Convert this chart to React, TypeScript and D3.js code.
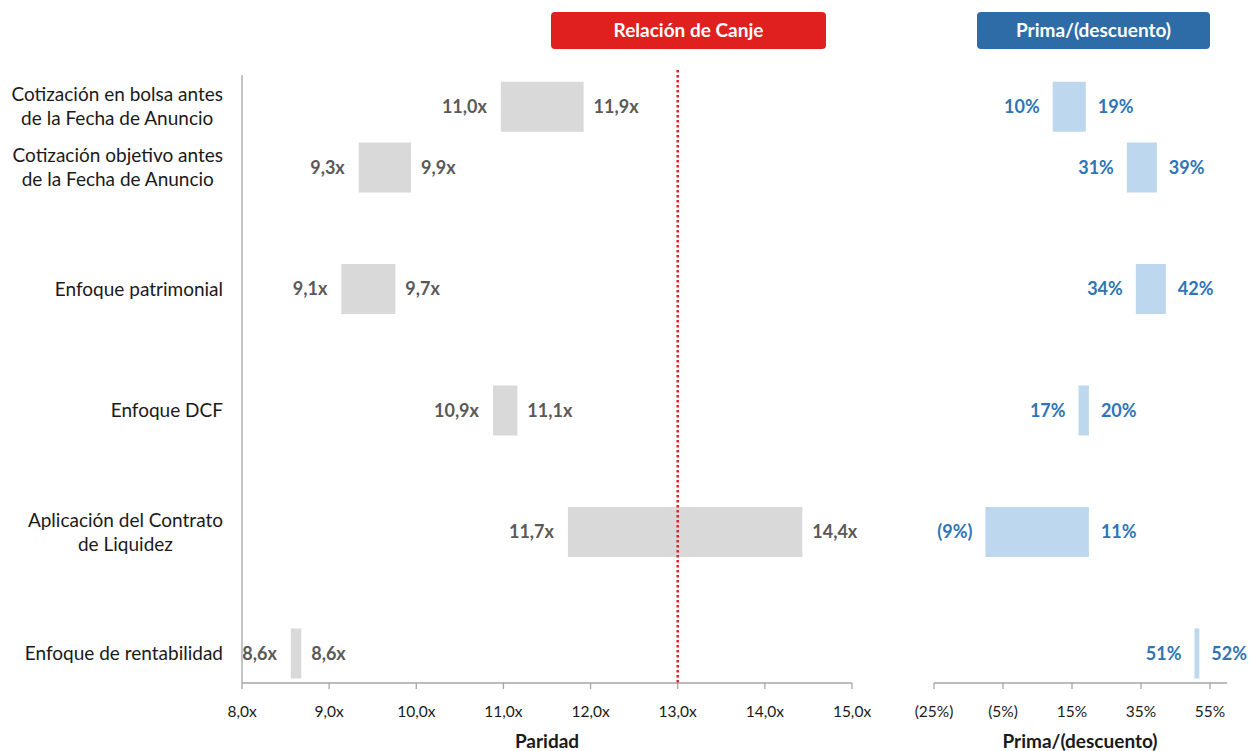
import React, { useEffect, useRef } from "react";
import * as d3 from "d3";

const categories: string[][] = [
  ["Cotización en bolsa antes", "de la Fecha de Anuncio"],
  ["Cotización objetivo antes", "de la Fecha de Anuncio"],
  ["Enfoque patrimonial"],
  ["Enfoque DCF"],
  ["Aplicación del Contrato", "de Liquidez"],
  ["Enfoque de rentabilidad"],
];
const rowSlot = [0.5, 1, 2, 3, 4, 5];

const canjeLow = [10.97, 9.34, 9.14, 10.88, 11.74, 8.56];
const canjeHigh = [11.92, 9.94, 9.76, 11.16, 14.43, 8.68];
const canjeLowLabel = ["11,0x", "9,3x", "9,1x", "10,9x", "11,7x", "8,6x"];
const canjeHighLabel = ["11,9x", "9,9x", "9,7x", "11,1x", "14,4x", "8,6x"];

const primaLow = [9.4, 30.9, 33.5, 16.9, -10.1, 50.5];
const primaHigh = [19.0, 39.6, 42.2, 19.9, 19.9, 51.9];
const primaLowLabel = ["10%", "31%", "34%", "17%", "(9%)", "51%"];
const primaHighLabel = ["19%", "39%", "42%", "20%", "11%", "52%"];

const canjeTicks = [8, 9, 10, 11, 12, 13, 14, 15];
const primaTicks = [-25, -5, 15, 35, 55];
const referenceCanje = 13.0;

const FONT = "Lato, 'Open Sans', sans-serif";

export default function App() {
  const ref = useRef<SVGSVGElement | null>(null);

  useEffect(() => {
    const svg = d3.select(ref.current);
    svg.selectAll("*").remove();

    const axisY = 683;
    const xL = d3.scaleLinear().domain([8, 15]).range([242, 852]);
    const xR = d3.scaleLinear().domain([-25, 60]).range([934, 1227.25]);
    const y = d3.scaleLinear().domain([0, 5]).range([46, 653.5]);
    const barH = 50;

    // headers
    const headers = [
      { x0: 551, x1: 826, fill: "#e0201f", text: "Relación de Canje" },
      { x0: 977, x1: 1210, fill: "#2e6ca8", text: "Prima/(descuento)" },
    ];
    headers.forEach((h) => {
      svg.append("rect").attr("x", h.x0).attr("y", 12).attr("width", h.x1 - h.x0).attr("height", 37)
        .attr("rx", 4).attr("fill", h.fill);
      svg.append("text").attr("x", (h.x0 + h.x1) / 2).attr("y", 30.5).attr("dy", "0.35em")
        .attr("text-anchor", "middle").attr("fill", "#fff").attr("font-family", FONT)
        .attr("font-weight", 700).attr("font-size", 19).text(h.text);
    });

    // category labels
    categories.forEach((lines, i) => {
      const cy = y(rowSlot[i]);
      const g = svg.append("g");
      const texts = lines.map((l, k) =>
        g.append("text").attr("y", cy + (k - (lines.length - 1) / 2) * 24).attr("dy", "0.35em")
          .attr("font-family", FONT).attr("font-size", 19).attr("fill", "#1a1a1a").text(l)
      );
      const widths = texts.map((t) => (t.node() as SVGTextElement).getComputedTextLength());
      const maxW = Math.max(...widths);
      const cx = 223 - maxW / 2;
      texts.forEach((t) => t.attr("x", cx).attr("text-anchor", "middle"));
    });

    // left axis lines
    svg.append("line").attr("x1", xL(8)).attr("x2", xL(8)).attr("y1", 75).attr("y2", axisY)
      .attr("stroke", "#a6a6a6").attr("stroke-width", 1.3);
    svg.append("line").attr("x1", xL(8)).attr("x2", xL(15)).attr("y1", axisY).attr("y2", axisY)
      .attr("stroke", "#a6a6a6").attr("stroke-width", 1.3);
    canjeTicks.forEach((t) => {
      svg.append("line").attr("x1", xL(t)).attr("x2", xL(t)).attr("y1", axisY).attr("y2", axisY + 6)
        .attr("stroke", "#a6a6a6").attr("stroke-width", 1.3);
      svg.append("text").attr("x", xL(t)).attr("y", 712).attr("dy", "0.35em").attr("text-anchor", "middle")
        .attr("font-family", FONT).attr("font-size", 15.5).attr("fill", "#1a1a1a")
        .text(d3.format(".1f")(t).replace(".", ",") + "x");
    });

    // right axis
    svg.append("line").attr("x1", xR(-25)).attr("x2", xR(60)).attr("y1", axisY).attr("y2", axisY)
      .attr("stroke", "#a6a6a6").attr("stroke-width", 1.3);
    primaTicks.forEach((t) => {
      svg.append("line").attr("x1", xR(t)).attr("x2", xR(t)).attr("y1", axisY).attr("y2", axisY + 6)
        .attr("stroke", "#a6a6a6").attr("stroke-width", 1.3);
      svg.append("text").attr("x", xR(t)).attr("y", 712).attr("dy", "0.35em").attr("text-anchor", "middle")
        .attr("font-family", FONT).attr("font-size", 15.5).attr("fill", "#1a1a1a")
        .text(t < 0 ? `(${-t}%)` : `${t}%`);
    });

    // axis titles
    svg.append("text").attr("x", 547).attr("y", 741).attr("dy", "0.35em").attr("text-anchor", "middle")
      .attr("font-family", FONT).attr("font-weight", 700).attr("font-size", 19).attr("fill", "#1a1a1a").text("Paridad");
    svg.append("text").attr("x", 1080).attr("y", 741).attr("dy", "0.35em").attr("text-anchor", "middle")
      .attr("font-family", FONT).attr("font-weight", 700).attr("font-size", 19).attr("fill", "#1a1a1a").text("Prima/(descuento)");

    // canje bars
    categories.forEach((_, i) => {
      const cy = y(rowSlot[i]);
      svg.append("rect").attr("x", xL(canjeLow[i])).attr("y", cy - barH / 2)
        .attr("width", xL(canjeHigh[i]) - xL(canjeLow[i])).attr("height", barH).attr("fill", "#d9d9d9");
      svg.append("text").attr("x", xL(canjeLow[i]) - 14).attr("y", cy).attr("dy", "0.35em").attr("text-anchor", "end")
        .attr("font-family", FONT).attr("font-weight", 700).attr("font-size", 18).attr("fill", "#595959").text(canjeLowLabel[i]);
      svg.append("text").attr("x", xL(canjeHigh[i]) + 10).attr("y", cy).attr("dy", "0.35em").attr("text-anchor", "start")
        .attr("font-family", FONT).attr("font-weight", 700).attr("font-size", 18).attr("fill", "#595959").text(canjeHighLabel[i]);
    });

    // prima bars
    categories.forEach((_, i) => {
      const cy = y(rowSlot[i]);
      svg.append("rect").attr("x", xR(primaLow[i])).attr("y", cy - barH / 2)
        .attr("width", xR(primaHigh[i]) - xR(primaLow[i])).attr("height", barH).attr("fill", "#bdd7ee");
      svg.append("text").attr("x", xR(primaLow[i]) - 13).attr("y", cy).attr("dy", "0.35em").attr("text-anchor", "end")
        .attr("font-family", FONT).attr("font-weight", 700).attr("font-size", 18).attr("fill", "#2e75b6").text(primaLowLabel[i]);
      svg.append("text").attr("x", xR(primaHigh[i]) + 12).attr("y", cy).attr("dy", "0.35em").attr("text-anchor", "start")
        .attr("font-family", FONT).attr("font-weight", 700).attr("font-size", 18).attr("fill", "#2e75b6").text(primaHighLabel[i]);
    });

    // reference line
    svg.append("line").attr("x1", xL(referenceCanje)).attr("x2", xL(referenceCanje)).attr("y1", 70).attr("y2", axisY)
      .attr("stroke", "#e31e24").attr("stroke-width", 2.5).attr("stroke-dasharray", "2.5,2.5");
  }, []);

  return (
    <svg ref={ref} width={1250} height={751}
      style={{ position: "absolute", left: 0, top: 0, background: "#fff" }} />
  );
}
